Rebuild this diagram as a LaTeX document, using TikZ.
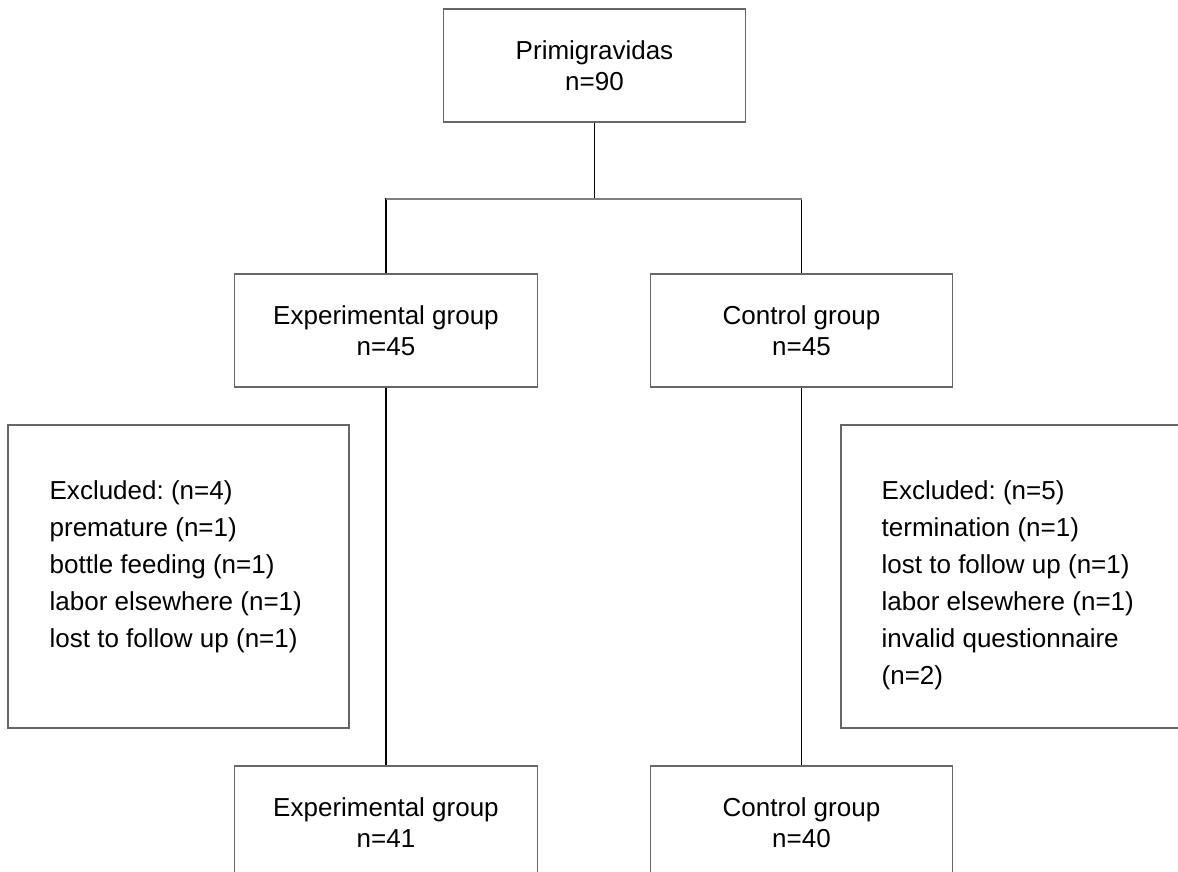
\documentclass[tikz,border=0pt]{standalone}
\usepackage{fontspec}
\setmainfont{Liberation Sans}
\usepackage{tikz}
\usepackage{xcolor}
\usetikzlibrary{calc, positioning}
\frenchspacing
\colorlet{boxgrey}{black!60!white}
\colorlet{linegrey}{black!50!white}
\tikzset{box/.style={draw=boxgrey, line width=0.8pt, rectangle, minimum width=6.05cm, minimum height=2.26cm, align=center, font=\fontsize{14.8}{17.6}\selectfont}}
\tikzset{listbox/.style={box, minimum width=6.82cm, minimum height=6.06cm}}
\tikzset{listtext/.style={anchor=north west, inner sep=0pt, align=left, font=\fontsize{14.8}{21}\selectfont}}
\tikzset{edge/.style={color=black, line width=0.7pt}}

\begin{document}
\begin{tikzpicture}
            \useasboundingbox (0, 0) rectangle (23.56, -17.44);
            \clip (0, 0) rectangle (23.56, -17.44);

            \node [box] (Prim) at (11.89, -1.31) { Primigravidas\\n=90 };

            \node [box] (ExpA) at (7.72, -6.61) { Experimental group\\n=45 };
            \node [box] (CtlA) at (16.03, -6.61) { Control group\\n=45 };

            \node [listbox] (ExclE) at (3.57, -11.53) { };
            \node [listtext] (ExclEList) at ($(ExclE.north west) + (0.84, -1.12)$) { Excluded: (n=4)\\premature (n=1)\\bottle feeding (n=1)\\labor elsewhere (n=1)\\lost to follow up (n=1) };
            \node [listbox] (ExclC) at (20.23, -11.53) { };
            \node [listtext] (ExclCList) at ($(ExclC.north west) + (0.82, -1.12)$) { Excluded: (n=5)\\termination (n=1)\\lost to follow up (n=1)\\labor elsewhere (n=1)\\invalid questionnaire\\(n=2) };

            \node [box] (ExpB) at (7.72, -16.45) { Experimental group\\n=41 };
            \node [box] (CtlB) at (16.03, -16.45) { Control group\\n=40 };

            \coordinate (Split) at (11.89, -3.98);

            \draw [edge] (Prim) -- (Split);
            \draw [edge] (ExpA) |- (Split);
            \draw [edge] (Split) -| (CtlA);
            \draw [edge, color=linegrey] (ExpA |- Split) -- (CtlA |- Split);
            \draw [edge] (ExpA) -- (ExpB);
            \draw [edge] (CtlA) -- (CtlB);
        \end{tikzpicture}
\end{document}
